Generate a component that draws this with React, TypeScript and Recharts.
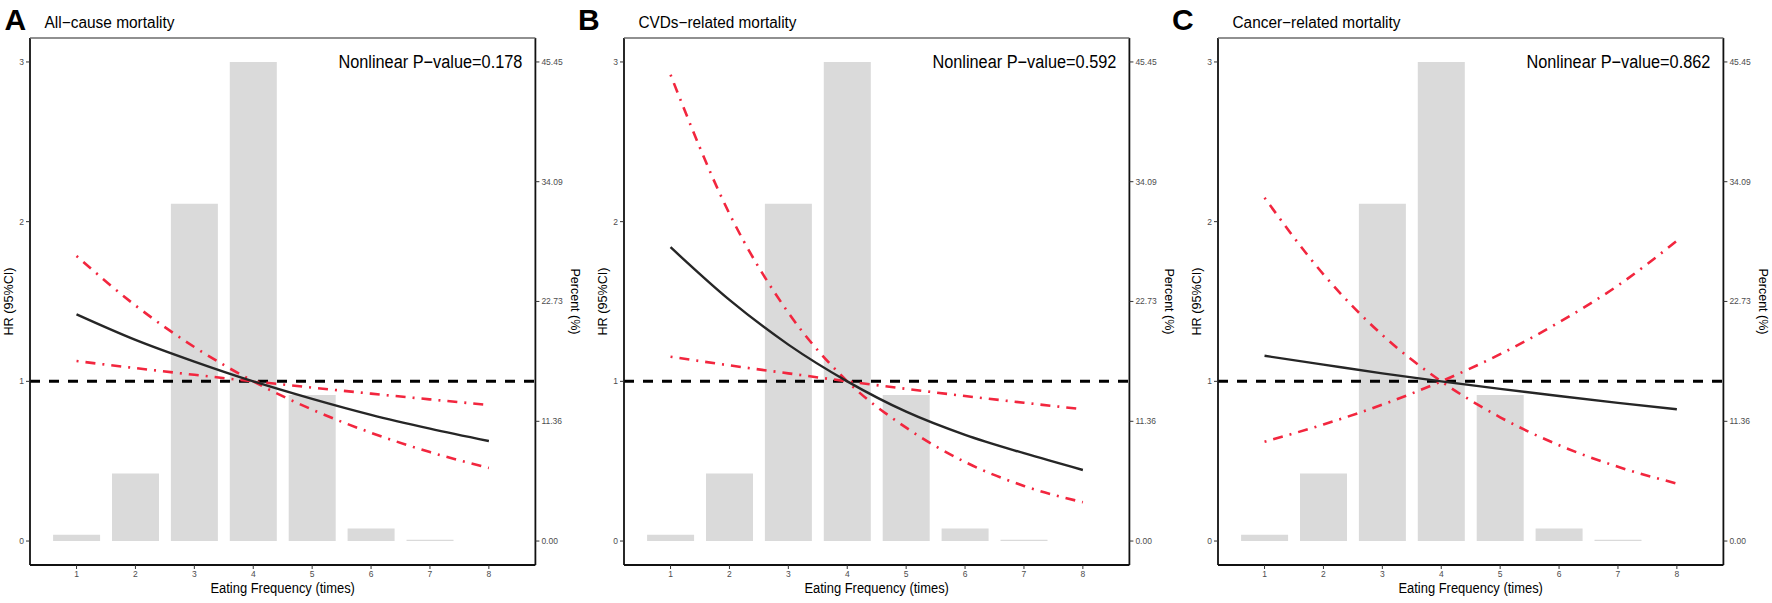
import { Bar, ComposedChart, Line, ReferenceLine, XAxis, YAxis } from "recharts";

const FREQ = [1, 2, 3, 4, 5, 6, 7, 8];
const PERCENT = [0.6, 6.4, 32.0, 45.45, 13.85, 1.2, 0.12, null];
const PCT_TICKS = [0, 11.36, 22.73, 34.09, 45.45];
const HR_TICKS = [0, 1, 2, 3];

// all-cause
const ALL_HR = [1.42, 1.26, 1.124, 1.0, 0.89, 0.79, 0.704, 0.626];
const ALL_CI_FLAT = [1.127, 1.083, 1.041, 1.0, 0.961, 0.923, 0.887, 0.852];
const ALL_CI_STEEP = [1.785, 1.475, 1.215, 1.0, 0.823, 0.678, 0.557, 0.458];

// CVDs
const CVD_HR = [1.84, 1.51, 1.23, 1.0, 0.81, 0.665, 0.55, 0.445];
const CVD_CI_FLAT = [1.154, 1.1, 1.05, 1.0, 0.953, 0.908, 0.866, 0.825];
const CVD_CI_STEEP = [2.92, 2.05, 1.43, 1.0, 0.71, 0.495, 0.345, 0.243];

// cancer
const CANCER_HR = [1.16, 1.105, 1.05, 1.0, 0.953, 0.908, 0.865, 0.825];
const CANCER_CI_DOWN = [2.15, 1.67, 1.29, 1.0, 0.775, 0.6, 0.465, 0.36];
const CANCER_CI_UP = [0.622, 0.73, 0.854, 1.0, 1.17, 1.37, 1.6, 1.88];

const PANELS = [
  { letter: "A", title: "All\u2212cause mortality", titleW: 130, p: "0.178", hr: ALL_HR, ciA: ALL_CI_FLAT, ciB: ALL_CI_STEEP, letterX: 4.6 },
  { letter: "B", title: "CVDs\u2212related mortality", titleW: 158, p: "0.592", hr: CVD_HR, ciA: CVD_CI_FLAT, ciB: CVD_CI_STEEP, letterX: 578 },
  { letter: "C", title: "Cancer\u2212related mortality", titleW: 168, p: "0.862", hr: CANCER_HR, ciA: CANCER_CI_DOWN, ciB: CANCER_CI_UP, letterX: 1172 },
];

const PANEL_W = 594;
const H = 603;
const PLOT_L = 30;
const PLOT_R = 535.4;
const FONT = "'Liberation Sans', Arial, sans-serif";
const RED = "#f2263e";
const tickStyle = { fontSize: 8.5, fill: "#4d4d4d", fontFamily: FONT };

function Panel({ panel, left }: { panel: (typeof PANELS)[number]; left: number }) {
  const data = FREQ.map((x, i) => ({
    x,
    pct: PERCENT[i],
    hr: panel.hr[i],
    ciA: panel.ciA[i],
    ciB: panel.ciB[i],
  }));
  return (
    <div style={{ position: "absolute", left, top: 0 }}>
      <ComposedChart
        width={PANEL_W}
        height={H}
        data={data}
        margin={{ top: 38, right: PANEL_W - PLOT_R - 45, bottom: 0, left: 0 }}
      >
        <XAxis
          dataKey="x"
          type="number"
          domain={[0.21, 8.79]}
          ticks={FREQ}
          allowDataOverflow
          height={38}
          tickSize={4}
          tickMargin={2}
          tick={tickStyle}
          axisLine={{ stroke: "#111", strokeWidth: 1.8 }}
          tickLine={{ stroke: "#333" }}
        />
        <YAxis
          yAxisId="hr"
          domain={[-0.15, 3.15]}
          ticks={HR_TICKS}
          allowDataOverflow
          width={PLOT_L}
          tickSize={4}
          tickMargin={2}
          tick={tickStyle}
          axisLine={{ stroke: "#111", strokeWidth: 1.8 }}
          tickLine={{ stroke: "#333" }}
        />
        <YAxis
          yAxisId="pct"
          orientation="right"
          domain={[-2.2725, 47.7225]}
          ticks={PCT_TICKS}
          allowDataOverflow
          width={45}
          tickSize={4}
          tickMargin={2}
          tick={tickStyle}
          tickFormatter={(v: number) => v.toFixed(2)}
          axisLine={{ stroke: "#111", strokeWidth: 1.8 }}
          tickLine={{ stroke: "#333" }}
        />
        <Bar yAxisId="pct" dataKey="pct" fill="#dadada" barSize={47} isAnimationActive={false} />
        <ReferenceLine yAxisId="hr" y={1} stroke="#000" strokeWidth={3} strokeDasharray="10 9" />
        <Line yAxisId="hr" dataKey="ciA" type="monotone" stroke={RED} strokeWidth={2.6} strokeDasharray="2 7 10 7" dot={false} isAnimationActive={false} />
        <Line yAxisId="hr" dataKey="ciB" type="monotone" stroke={RED} strokeWidth={2.6} strokeDasharray="2 7 10 7" dot={false} isAnimationActive={false} />
        <Line yAxisId="hr" dataKey="hr" type="monotone" stroke="#262626" strokeWidth={2.4} dot={false} isAnimationActive={false} />
      </ComposedChart>
    </div>
  );
}

export default function App() {
  return (
    <div style={{ position: "fixed", left: 0, top: 0, width: 1772, height: H, background: "#fff", overflow: "hidden" }}>
      {PANELS.map((p, i) => (
        <Panel key={p.letter} panel={p} left={i * PANEL_W} />
      ))}
      <svg width={1772} height={H} style={{ position: "absolute", left: 0, top: 0, pointerEvents: "none" }} fontFamily={FONT}>
        {PANELS.map((p, i) => {
          const pl = i * PANEL_W + PLOT_L;
          const pr = i * PANEL_W + PLOT_R;
          const mid = (38 + 565) / 2;
          return (
            <g key={p.letter}>
              <line x1={pl} x2={pr} y1={38} y2={38} stroke="#6b6b6b" strokeWidth={1.5} />
              <text x={p.letterX} y={30} fontSize={30} fontWeight="bold" fill="#000">{p.letter}</text>
              <text x={pl + 14.5} y={28} fontSize={16} fill="#000" textLength={p.titleW} lengthAdjust="spacingAndGlyphs">{p.title}</text>
              <text x={pr - 13} y={68} fontSize={18} fill="#000" textAnchor="end" textLength={184} lengthAdjust="spacingAndGlyphs">{`Nonlinear P\u2212value=${p.p}`}</text>
              <text transform={`translate(${pl - 21.5 + 4.5},${mid}) rotate(-90)`} fontSize={12.5} fill="#000" textAnchor="middle" textLength={68} lengthAdjust="spacingAndGlyphs">HR (95%CI)</text>
              <text transform={`translate(${pr + 40.5 - 4.5},${mid}) rotate(90)`} fontSize={12.5} fill="#000" textAnchor="middle" textLength={66} lengthAdjust="spacingAndGlyphs">Percent (%)</text>
              <text x={(pl + pr) / 2} y={593} fontSize={14} fill="#000" textAnchor="middle" textLength={144.5} lengthAdjust="spacingAndGlyphs">Eating Frequency (times)</text>
            </g>
          );
        })}
      </svg>
    </div>
  );
}
